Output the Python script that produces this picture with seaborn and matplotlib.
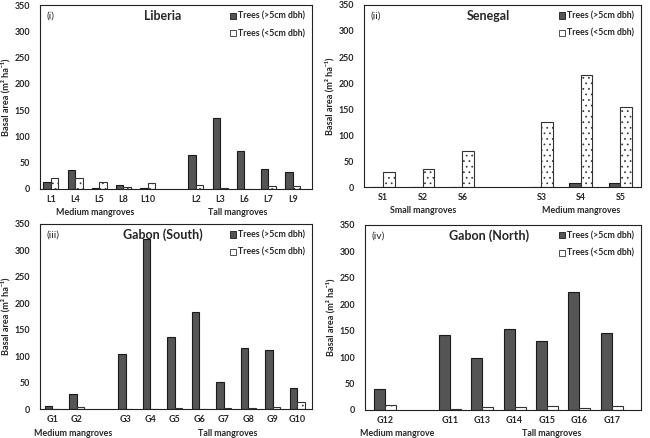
import matplotlib
matplotlib.use("Agg")
import matplotlib.pyplot as plt
import seaborn as sns
import pandas as pd
from matplotlib.patches import Patch

sns.set_theme(style="white")
plt.rcParams['font.family'] = ['Lato', 'DejaVu Sans']
plt.rcParams['hatch.linewidth'] = 0.5

# ---------------- data ----------------
liberia_sites = ["L1", "L4", "L5", "L8", "L10", "L2", "L3", "L6", "L7", "L9"]
liberia_big = [13, 36, 1, 8, 1, 65, 135, 72, 38, 32]
liberia_small = [20, 21, 13, 4.5, 12, 8, 1, 0.5, 6, 5]

senegal_sites = ["S1", "S2", "S6", "S3", "S4", "S5"]
senegal_big = [0, 0, 0, 1, 7, 7]
senegal_small = [29, 34, 69, 125, 215, 153]

gabon_s_sites = ["G1", "G2", "G3", "G4", "G5", "G6", "G7", "G8", "G9", "G10"]
gabon_s_big = [5, 28, 104, 322, 136, 184, 51, 115, 111, 40]
gabon_s_small = [0.5, 4, 0.5, 0.5, 3, 0.5, 2, 2.5, 4.5, 14]

gabon_n_sites = ["G12", "G11", "G13", "G14", "G15", "G16", "G17"]
gabon_n_big = [39, 142, 98, 154, 131, 224, 146]
gabon_n_small = [10, 2, 5, 6, 8, 4.5, 7]

series_names = ["Trees (>5cm dbh)", "Trees (<5cm dbh)"]

DARK = "#555555"
EDGE = "#1a1a1a"
FS_TICK = 6.4


def panel(ax, sites, big, small, gap_after, tag, title, groups, xlim, width):
    df = pd.DataFrame({
        "site": sites * 2,
        "type": [series_names[0]] * len(sites) + [series_names[1]] * len(sites),
        "value": list(big) + list(small),
    })
    order = sites[:gap_after] + ["__gap__"] + sites[gap_after:]
    sns.barplot(data=df, x="site", y="value", hue="type", order=order,
                hue_order=series_names, palette=[DARK, "white"],
                width=width, edgecolor=EDGE, linewidth=0.8, ax=ax,
                legend=False, errorbar=None)
    for p in ax.containers[1]:
        p.set_hatch("...")
        p.set_edgecolor("#333333")
        try:
            p.set_hatchcolor("#b0b0b0")
        except Exception:
            pass
    ax.set_ylim(0, 350)
    ax.set_yticks(range(0, 351, 50))
    ax.set_xlim(*xlim)
    ax.set_xticks(range(len(order)))
    ax.set_xticklabels(["" if o == "__gap__" else o for o in order],
                       fontsize=FS_TICK, fontweight="bold")
    ax.tick_params(axis="y", labelsize=FS_TICK, length=0, pad=7)
    ax.tick_params(axis="x", length=0, pad=4)
    for lab in ax.get_yticklabels():
        lab.set_fontweight("bold")
    ax.set_xlabel("")
    ax.set_ylabel("Basal area (m² ha⁻¹)", fontsize=6.6, fontweight="bold",
                  labelpad=3)
    for s in ax.spines.values():
        s.set_visible(True)
        s.set_color("#222222")
        s.set_linewidth(0.8)
    ax.text(0.025, 0.94, tag, transform=ax.transAxes, fontsize=7.5,
            ha="left", va="center")
    ax.text(0.45, 0.94, title, transform=ax.transAxes, fontsize=9,
            fontweight="bold", ha="center", va="center")
    for label, xpos in groups:
        ax.text(xpos, -0.105, label, transform=ax.get_xaxis_transform(),
                fontsize=FS_TICK, fontweight="bold", ha="center", va="top")
    h1 = Patch(facecolor=DARK, edgecolor=EDGE, linewidth=0.6)
    h2 = Patch(facecolor="white", edgecolor="#333333", linewidth=0.6)
    ax.legend([h1, h2], series_names, loc="upper right",
              bbox_to_anchor=(1.0, 1.0), frameon=False,
              prop={"size": 6.3, "weight": "bold"},
              handlelength=0.7, handleheight=0.7, handletextpad=0.25,
              labelspacing=0.95, borderaxespad=0.35)


fig = plt.figure(figsize=(6.5, 4.38), dpi=100)
ax1 = fig.add_axes([0.0615, 0.5685, 0.4185, 0.42])
ax2 = fig.add_axes([0.560, 0.573, 0.426, 0.4156])
ax3 = fig.add_axes([0.0615, 0.066, 0.4185, 0.4226])
ax4 = fig.add_axes([0.5615, 0.064, 0.4245, 0.4226])

panel(ax1, liberia_sites, liberia_big, liberia_small, 5, "(i)", "Liberia",
      [("Medium mangroves", 1.85), ("Tall mangroves", 7.74)], (-0.45, 10.8), 0.62)
panel(ax2, senegal_sites, senegal_big, senegal_small, 3, "(ii)", "Senegal",
      [("Small mangroves", 1.0), ("Medium mangroves", 5.0)], (-0.49, 6.52), 0.58)
panel(ax3, gabon_s_sites, gabon_s_big, gabon_s_small, 2, "(iii)", "Gabon (South)",
      [("Medium mangroves", 0.85), ("Tall mangroves", 7.15)], (-0.5, 10.6), 0.62)
panel(ax4, gabon_n_sites, gabon_n_big, gabon_n_small, 1, "(iv)", "Gabon (North)",
      [("Medium mangrove", 0.37), ("Tall mangroves", 5.15)], (-0.62, 7.9), 0.68)

fig.savefig("out.png", dpi=100)
